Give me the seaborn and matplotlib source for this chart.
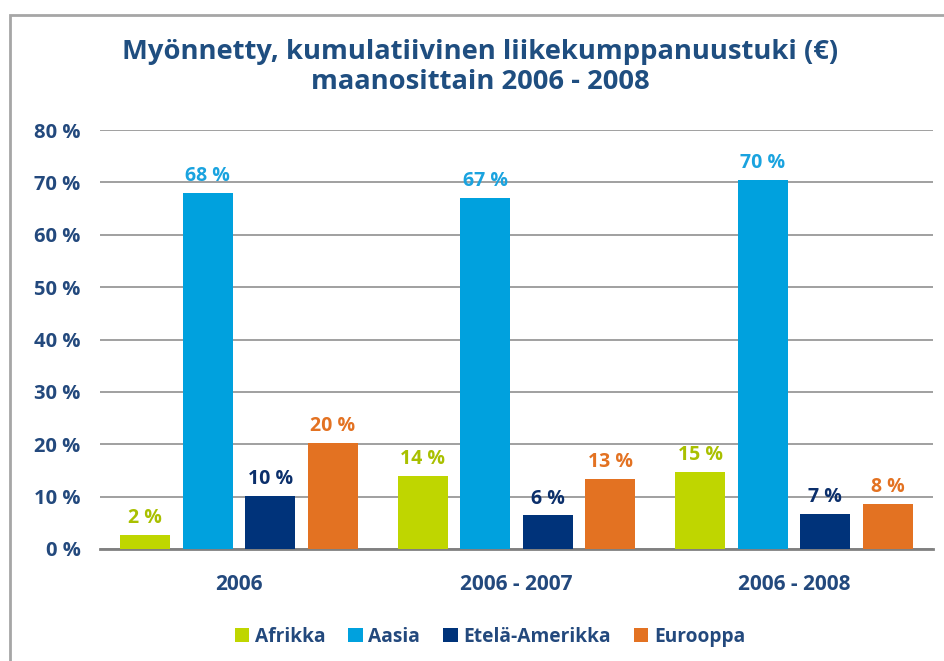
import pandas as pd
import matplotlib.pyplot as plt
import seaborn as sns
from matplotlib.patches import Patch, Rectangle

# Data
periods = ['2006', '2006 - 2007', '2006 - 2008']
regions = ['Afrikka', 'Aasia', 'Etelä-Amerikka', 'Eurooppa']
afrikka = [2.7, 13.9, 14.7]
aasia = [67.9, 67.1, 70.5]
etela_amerikka = [10.1, 6.4, 6.7]
eurooppa = [20.2, 13.3, 8.6]
labels = {
    'Afrikka': ['2 %', '14 %', '15 %'],
    'Aasia': ['68 %', '67 %', '70 %'],
    'Etelä-Amerikka': ['10 %', '6 %', '7 %'],
    'Eurooppa': ['20 %', '13 %', '8 %'],
}
yticks = [0, 10, 20, 30, 40, 50, 60, 70, 80]

colors = ['#BFD600', '#00A1DE', '#00337A', '#E37222']
label_colors = ['#A9C000', '#1AA3DF', '#0B2F6B', '#E37222']
text_color = '#23497D'

df = pd.DataFrame({
    'Period': periods * 4,
    'Region': [r for r in regions for _ in periods],
    'Value': afrikka + aasia + etela_amerikka + eurooppa,
})

sns.set_style('white')
plt.rcParams['font.family'] = ['Open Sans', 'DejaVu Sans']

fig = plt.figure(figsize=(9.44, 6.61), dpi=100)
ax = fig.add_axes([100 / 944, 1 - 549 / 661, 833 / 944, 419 / 661])

sns.barplot(data=df, x='Period', y='Value', hue='Region', order=periods,
            hue_order=regions, palette=colors, width=0.9, gap=0.2,
            saturation=1, legend=False, ax=ax, zorder=3, linewidth=0)

# labels above the bars
for cont, reg, lc in zip(ax.containers, regions, label_colors):
    ax.bar_label(cont, labels=labels[reg], padding=5, color=lc,
                 fontsize=14, fontweight='bold')

ax.set_ylim(0, 80)
ax.set_xlim(-0.5, 2.5)
ax.set_yticks(yticks)
ax.set_yticklabels([f'{t} %' for t in yticks])
ax.yaxis.grid(True, color='#A0A0A0', linewidth=1.4, zorder=0)
ax.set_axisbelow(True)
for s in ['top', 'right', 'left']:
    ax.spines[s].set_visible(False)
ax.spines['bottom'].set_color('#808080')
ax.spines['bottom'].set_linewidth(2)
ax.tick_params(axis='y', length=0, pad=14, labelsize=14.5, labelcolor=text_color)
ax.tick_params(axis='x', length=0, pad=18, labelsize=15, labelcolor=text_color)
for t in ax.get_xticklabels() + ax.get_yticklabels():
    t.set_fontweight('bold')
ax.set_xlabel('')
ax.set_ylabel('')

# Title
fig.text(480 / 944, 1 - 67 / 661,
         'Myönnetty, kumulatiivinen liikekumppanuustuki (€)\nmaanosittain 2006 - 2008',
         ha='center', va='center', fontsize=19.7, fontweight='bold',
         color='#1F4E80', linespacing=1.2)

# Legend
handles = [Patch(facecolor=c, edgecolor='none', label=r) for c, r in zip(colors, regions)]
fig.legend(handles=handles, loc='center', bbox_to_anchor=(490 / 944, 1 - 637 / 661),
           ncol=4, frameon=False, handlelength=0.75, handleheight=0.75,
           handletextpad=0.3, columnspacing=1.2,
           prop={'size': 13.8, 'weight': 'bold'}, labelcolor=text_color)

# outer border
fig.patches.append(Rectangle((10 / 944, -0.05), 1.2, 1 - 15 / 661 + 0.05,
                             transform=fig.transFigure, fill=False,
                             edgecolor='#A6A6A6', linewidth=2))

fig.savefig('out.png', dpi=100)
